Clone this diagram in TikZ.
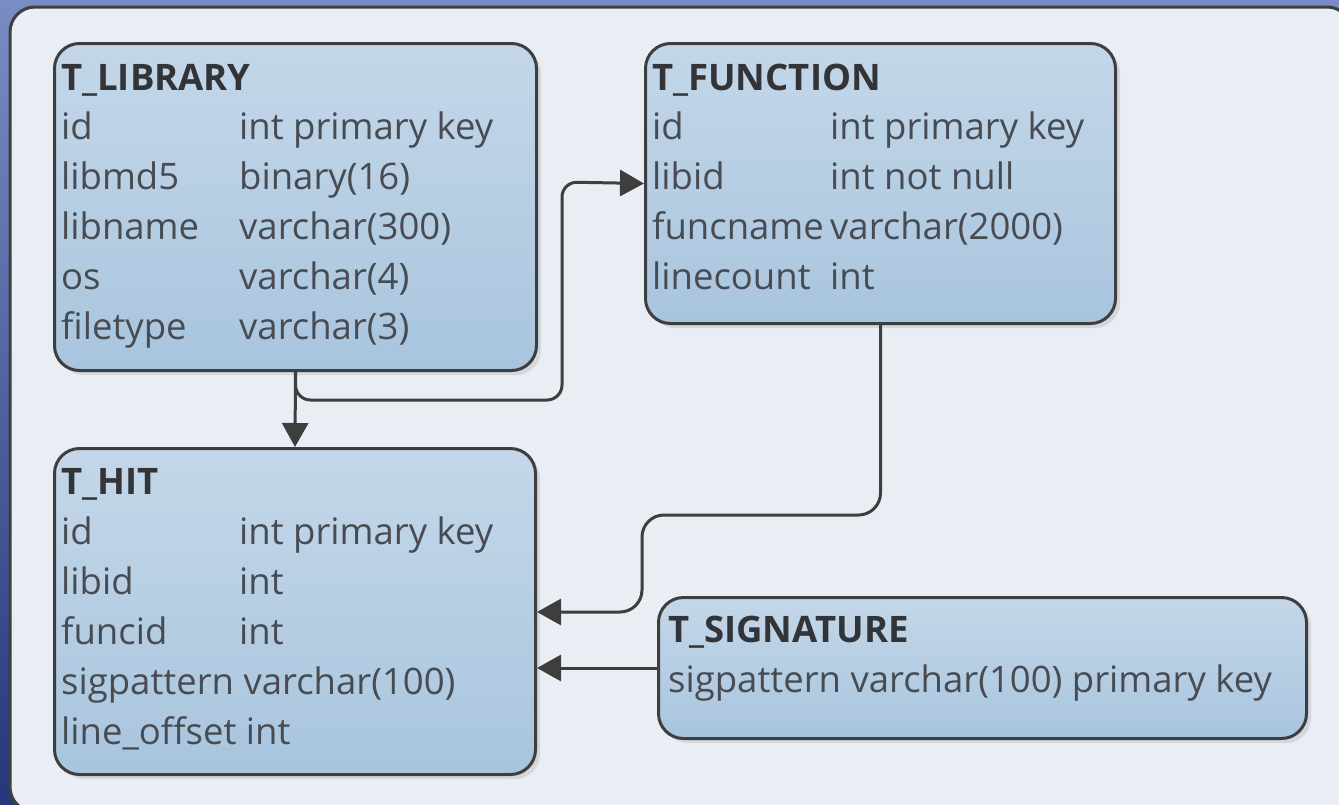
\documentclass[tikz,border=0pt]{standalone}
\usepackage{fontspec}
\setmainfont{Open Sans}
\usetikzlibrary{arrows.meta}
\definecolor{bgtop}{RGB}{122,140,196}
\definecolor{bgbot}{RGB}{36,56,122}
\definecolor{panel}{RGB}{233,238,245}
\definecolor{edge}{RGB}{62,62,62}
\definecolor{boxtop}{RGB}{196,215,233}
\definecolor{boxbot}{RGB}{168,197,222}
\definecolor{shadowc}{RGB}{212,216,221}
\definecolor{txt}{RGB}{72,76,82}
\definecolor{ttltxt}{RGB}{50,52,56}
\tikzset{
  tbl/.style={draw=edge, line width=3pt, rounded corners=25pt, top color=boxtop, bottom color=boxbot, anchor=north west, inner sep=0pt},
  shd/.style={fill=shadowc, rounded corners=25pt},
  ttl/.style={anchor=base west, inner sep=0pt, text=ttltxt, font=\fontsize{36.5}{42}\selectfont\bfseries},
  fld/.style={anchor=base west, inner sep=0pt, text=txt, font=\fontsize{36.5}{42}\selectfont},
  conn/.style={draw=edge, line width=3pt},
  tip/.style={-{Triangle[length=24pt,width=26pt]}}
}
\begin{document}
\begin{tikzpicture}[x=1pt,y=-1pt]
\useasboundingbox (0,0) rectangle (1339,804);
\clip (0,0) rectangle (1339,804);
\shade[top color=bgtop, bottom color=bgbot] (0,0) rectangle (1339,804);
\draw[draw=edge, fill=panel, line width=3pt, rounded corners=25pt] (10,7) rectangle (1352,812);

% shadows
\fill[shd] (59,48) rectangle (541,375);
\fill[shd] (650,48) rectangle (1120,328);
\fill[shd] (59,453) rectangle (540,779);
\fill[shd] (663,601) rectangle (1311,743);

% tables
\node[tbl, minimum width=482pt, minimum height=327pt] (lib) at (53,42) {};
\node[tbl, minimum width=470pt, minimum height=280pt] (func) at (644,42) {};
\node[tbl, minimum width=481pt, minimum height=326pt] (hit) at (53,447) {};
\node[tbl, minimum width=648pt, minimum height=141pt] (sig) at (657,596) {};

% T_LIBRARY
\node[ttl] (l0) at (61,90) {T\_LIBRARY};
\node[fld] (l1a) at (61,139) {id};       \node[fld] (l1b) at (239,139) {int primary key};
\node[fld] (l2a) at (61,189) {libmd5};   \node[fld] (l2b) at (239,189) {binary(16)};
\node[fld] (l3a) at (61,239) {libname};  \node[fld] (l3b) at (239,239) {varchar(300)};
\node[fld] (l4a) at (61,289) {os};       \node[fld] (l4b) at (239,289) {varchar(4)};
\node[fld] (l5a) at (61,339) {filetype}; \node[fld] (l5b) at (239,339) {varchar(3)};

% T_FUNCTION
\node[ttl] (f0) at (652,90) {T\_FUNCTION};
\node[fld] (f1a) at (652,139) {id};        \node[fld] (f1b) at (830,139) {int primary key};
\node[fld] (f2a) at (652,189) {libid};     \node[fld] (f2b) at (830,189) {int not null};
\node[fld] (f3a) at (652,239) {funcname};  \node[fld] (f3b) at (830,239) {varchar(2000)};
\node[fld] (f4a) at (652,289) {linecount}; \node[fld] (f4b) at (830,289) {int};

% T_HIT
\node[ttl] (h0) at (61,494) {T\_HIT};
\node[fld] (h1a) at (61,544) {id};      \node[fld] (h1b) at (239,544) {int primary key};
\node[fld] (h2a) at (61,594) {libid};   \node[fld] (h2b) at (239,594) {int};
\node[fld] (h3a) at (61,644) {funcid};  \node[fld] (h3b) at (239,644) {int};
\node[fld] (h4) at (61,694) {sigpattern varchar(100)};
\node[fld] (h5) at (61,744) {line\_offset int};

% T_SIGNATURE
\node[ttl] (s0) at (668,642) {T\_SIGNATURE};
\node[fld] (s1) at (668,692) {sigpattern varchar(100) primary key};

% connectors
\draw[conn, tip] (lib.south) -- (hit.north);
\draw[conn, tip, rounded corners=15pt] (lib.south) -- (lib.south |- 0,400) -- (562,400) -- (562,182) -- (func.west);
\draw[conn, tip, rounded corners=22pt] (func.south) -- (func.south |- 0,515) -- (642,515) -- (642,612) -- (hit.east |- 0,612);
\draw[conn, tip] (sig.west) -- (sig.west -| hit.east);
\end{tikzpicture}
\end{document}
